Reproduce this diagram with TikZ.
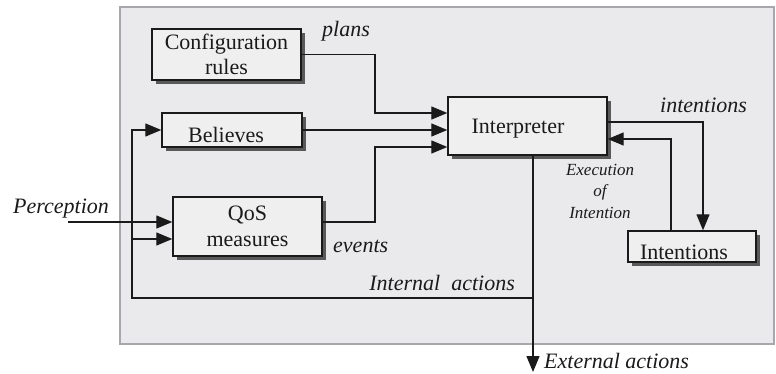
\documentclass[tikz,border=0pt]{standalone}
\usepackage{fontspec}
\setmainfont{Liberation Serif}
\usetikzlibrary{arrows.meta,shadows}
\definecolor{panelfill}{HTML}{EAEAED}
\definecolor{panelline}{HTML}{A8A8AC}
\definecolor{boxfill}{HTML}{EFEFEF}
\definecolor{ink}{HTML}{1A1A1A}
% lower the ink of a box text without changing its reported size
\newcommand\shiftdown[2]{\raisebox{-#1}[\height][\depth]{#2}}
\tikzset{
  box/.style={draw=ink, line width=1.4pt, fill=boxfill, align=center,
    inner sep=2pt, text=ink, font=\fontsize{22}{25.5}\selectfont,
    drop shadow={shadow xshift=4pt, shadow yshift=-4pt, fill=black!65, opacity=1}},
  lbl/.style={inner sep=0pt, text=ink, font=\fontsize{22}{26}\selectfont\itshape},
  smalllbl/.style={inner sep=0pt, text=ink, align=center,
    font=\fontsize{17}{21.5}\selectfont\itshape},
  arr/.style={draw=ink, line width=1.3pt, -{Triangle[length=16pt,width=13pt]}},
  link/.style={draw=ink, line width=1.3pt}
}
\begin{document}
\begin{tikzpicture}[x=1pt,y=-1pt]
\useasboundingbox (0,0) rectangle (776,374);

% agent panel
\draw[fill=panelfill, draw=panelline, line width=1.5pt] (120,7) rectangle (774,344);

% components
\node[box, minimum width=149pt, minimum height=51pt] (cfg) at (226.5,54.5) {Configuration\\rules};
\node[box, minimum width=140pt, minimum height=34pt] (bel) at (232,130) {\shiftdown{4.5pt}{Believes}\hspace*{12pt}};
\node[box, minimum width=159pt, minimum height=58pt] (interp) at (527.5,126) {\shiftdown{3pt}{Interpreter}\hspace*{19pt}};
\node[box, minimum width=149pt, minimum height=59pt] (qos) at (247.5,226.5) {QoS\\measures};
\node[box, minimum width=128pt, minimum height=31pt] (intn) at (692,246.5) {\shiftdown{6pt}{Intentions}\hspace*{16pt}};

% routing points
\coordinate (pj) at (375,113);
\coordinate (ej) at (375,147);
\coordinate (lt) at (132,130);
\coordinate (lm) at (132,239);
\coordinate (lb) at (132,298);
\coordinate (tap) at (533,298);
\coordinate (ext) at (533,372);
\coordinate (pin) at (68,222);
\coordinate (ij) at (703,122);
\coordinate (xj) at (671,139);

% plans, believes, events into the interpreter
\draw[arr] (cfg.east) -| (pj) -- (pj -| interp.west);
\draw[arr] (bel.east) -- (bel.east -| interp.west);
\draw[arr] ([yshift=4.5pt]qos.east) -| (ej) -- (ej -| interp.west);

% perception and internal feedback
\draw[arr] (pin) -- (pin -| qos.west);
\draw[arr] (tap) -- (lb) -- (lt) -- (bel.west);
\draw[arr] (lm) -- (lm -| qos.west);

% actions out of the interpreter
\draw[arr] (ext |- interp.south) -- (ext);

% intentions loop
\draw[arr] (ij -| interp.east) -- (ij) -- (ij |- intn.north);
\draw[arr] (xj |- intn.north) -- (xj) -- (xj -| interp.east);

% labels
\node[lbl, anchor=base west] (tplans) at (322,37) {plans};
\node[lbl, anchor=base west] (tintentions) at (660,113) {intentions};
\node[lbl, anchor=base west] (tperception) at (13,213) {Perception};
\node[lbl, anchor=base west] (tevents) at (333,252) {events};
\node[lbl, anchor=base east] (tinternal) at (515,290) {Internal\ \ actions};
\node[lbl, anchor=base west] (texternal) at (544,368) {External actions};
\node[smalllbl, anchor=north] (texec) at (600,164) {Execution\\of\\Intention};
\end{tikzpicture}
\end{document}
